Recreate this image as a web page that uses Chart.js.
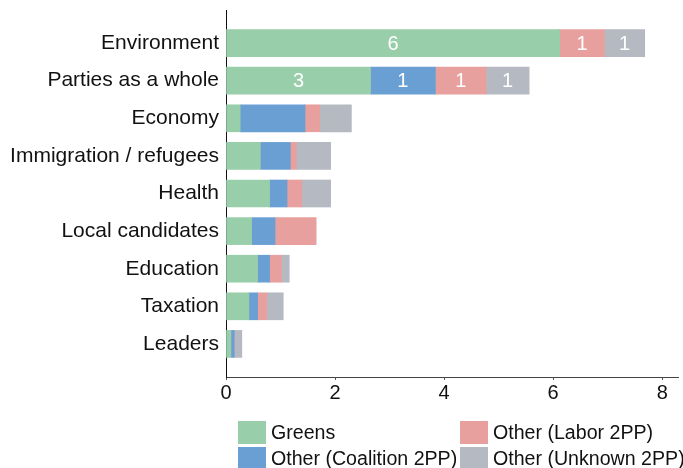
<!DOCTYPE html>
<html>
<head>
<meta charset="utf-8">
<script src="https://cdn.jsdelivr.net/npm/chart.js@4"></script>
<style>
  body { margin: 0; background: #fff; font-family: "Liberation Sans", Arial, sans-serif; }
  #wrap { position: relative; width: 683px; height: 468px; overflow: hidden; }
  #legend {
    position: absolute; left: 238px; top: 420px;
    display: grid; grid-template-columns: 222px 223px; grid-auto-rows: 25.5px;
    font-size: 19.6px; color: #111;
  }
  .item { display: flex; align-items: center; white-space: nowrap; }
  .box { width: 28px; height: 23px; margin-right: 5px; flex: none; }
</style>
</head>
<body>
<div id="wrap">
  <canvas id="chart" width="683" height="468"></canvas>
  <div id="legend"></div>
</div>
<script>
// Categories (top to bottom)
const categories = ['Environment', 'Parties as a whole', 'Economy', 'Immigration / refugees',
  'Health', 'Local candidates', 'Education', 'Taxation', 'Leaders'];

// Series values
const greens    = [6.12, 2.65, 0.26, 0.63, 0.80, 0.47, 0.58, 0.42, 0.09];
const coalition = [0,    1.19, 1.19, 0.55, 0.32, 0.43, 0.22, 0.16, 0.06];
const labor     = [0.82, 0.93, 0.27, 0.11, 0.27, 0.75, 0.22, 0.17, 0];
const unknown   = [0.74, 0.79, 0.58, 0.63, 0.53, 0,    0.14, 0.30, 0.14];

// Numbers printed inside the segments
const greensText    = ['6', '3', '', '', '', '', '', '', ''];
const coalitionText = ['',  '1', '', '', '', '', '', '', ''];
const laborText     = ['1', '1', '', '', '', '', '', '', ''];
const unknownText   = ['1', '1', '', '', '', '', '', '', ''];

const xTicks = [0, 2, 4, 6, 8];

const series = [
  { label: 'Greens', values: greens, text: greensText, color: '#98ceaa' },
  { label: 'Other (Coalition 2PP)', values: coalition, text: coalitionText, color: '#6a9fd4' },
  { label: 'Other (Labor 2PP)', values: labor, text: laborText, color: '#e8a09e' },
  { label: 'Other (Unknown 2PP)', values: unknown, text: unknownText, color: '#b5b9c1' }
];

const font = '"Liberation Sans", Arial, sans-serif';

// white numbers on the segments
const segmentText = {
  id: 'segmentText',
  afterDatasetsDraw(chart) {
    const ctx = chart.ctx;
    ctx.save();
    ctx.fillStyle = '#fff';
    ctx.font = '20px ' + font;
    ctx.textAlign = 'center';
    ctx.textBaseline = 'middle';
    chart.data.datasets.forEach((ds, di) => {
      chart.getDatasetMeta(di).data.forEach((bar, i) => {
        const t = ds.segText[i];
        if (t) ctx.fillText(t, (bar.x + bar.base) / 2, bar.y + 1);
      });
    });
    ctx.restore();
  }
};

const chart = new Chart(document.getElementById('chart'), {
  type: 'bar',
  data: {
    datasets: series.map(s => ({
      label: s.label,
      data: s.values.map((v, i) => ({ x: v, y: i })),
      segText: s.text,
      backgroundColor: s.color,
      borderWidth: 0,
      barThickness: 27
    }))
  },
  options: {
    indexAxis: 'y',
    responsive: false,
    animation: false,
    layout: { padding: { top: 10, right: 5, left: 0, bottom: 0 } },
    scales: {
      x: {
        type: 'linear',
        stacked: true,
        min: 0,
        max: 8.29,
        afterBuildTicks: axis => { axis.ticks = xTicks.map(v => ({ value: v })); },
        afterFit: scale => { scale.height = 91; scale.paddingLeft = 0; scale.paddingRight = 0; },
        grid: { drawOnChartArea: false, drawTicks: true, tickLength: 3, color: '#555' },
        border: { display: true, color: '#444', width: 1 },
        ticks: { color: '#111', font: { size: 20, family: font }, padding: 1, maxRotation: 0 }
      },
      y: {
        type: 'linear',
        stacked: true,
        reverse: true,
        offset: false,
        min: -0.88,
        max: 8.88,
        afterBuildTicks: axis => { axis.ticks = categories.map((c, i) => ({ value: i })); },
        afterFit: scale => { scale.width = 226; scale.paddingTop = 0; scale.paddingBottom = 0; },
        grid: { display: false, drawTicks: false, offset: false },
        border: { display: true, color: '#111', width: 1 },
        ticks: {
          color: '#111',
          font: { size: 21, family: font },
          padding: 7,
          autoSkip: false,
          callback: v => categories[Math.round(v)]
        }
      }
    },
    plugins: {
      legend: { display: false },
      tooltip: { enabled: false }
    }
  },
  plugins: [segmentText]
});

// Legend: two columns, filled column by column
const legendEl = document.getElementById('legend');
[0, 2, 1, 3].forEach(k => {
  const s = series[k];
  const item = document.createElement('div');
  item.className = 'item';
  item.innerHTML = `<span class="box" style="background:${s.color}"></span><span>${s.label}</span>`;
  legendEl.appendChild(item);
});
</script>
</body>
</html>
